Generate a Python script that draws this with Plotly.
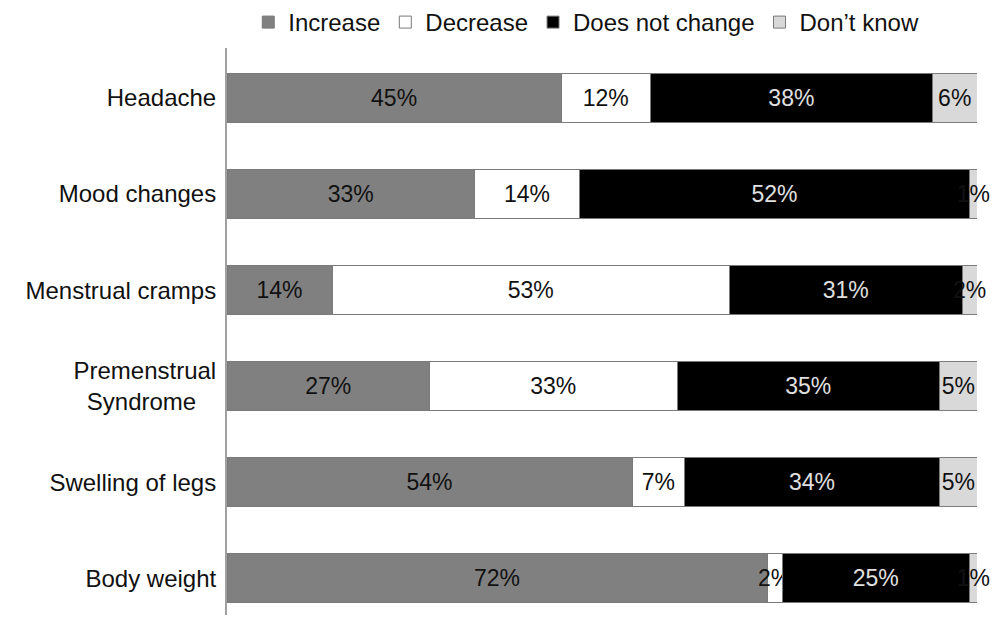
import plotly.graph_objects as go

categories = ["Headache", "Mood changes", "Menstrual cramps",
              "Premenstrual<br>Syndrome\u00a0\u00a0\u00a0",
              "Swelling of legs", "Body weight"]
increase = [45, 33, 14, 27, 54, 72]
decrease = [12, 14, 53, 33, 7, 2]
no_change = [38, 52, 31, 35, 34, 25]
dont_know = [6, 1, 2, 5, 5, 1]

series = [
    ("Increase", increase, "#808080", "#111111"),
    ("Decrease", decrease, "#ffffff", "#111111"),
    ("Does not change", no_change, "#000000", "#e0e0e0"),
    ("Don\u2019t know", dont_know, "#d9d9d9", "#111111"),
]

fig = go.Figure()
for name, vals, color, tcolor in series:
    fig.add_trace(go.Bar(
        y=categories, x=vals, name=name, orientation="h",
        marker=dict(color=color, line=dict(color="#7a7a7a", width=1)),
        text=[f"{v}%" for v in vals], textposition="inside", textangle=0,
        insidetextanchor="middle", constraintext="none",
        textfont=dict(family="Liberation Sans, Arial", size=23, color=tcolor),
        cliponaxis=False,
    ))

fig.update_layout(
    barmode="stack", barnorm="percent", bargap=0.49,
    width=993, height=618,
    margin=dict(l=227, r=16, t=48, b=3),
    paper_bgcolor="white", plot_bgcolor="white",
    font=dict(family="Liberation Sans, Arial", size=24, color="#111111"),
    legend=dict(orientation="h", x=0.479, xanchor="center", xref="paper",
                y=1.0, yref="container", yanchor="top",
                font=dict(size=24), itemwidth=30, traceorder="normal",
                bgcolor="rgba(0,0,0,0)"),
    showlegend=True,
)
fig.update_xaxes(range=[0, 100], showgrid=False, zeroline=False,
                 showticklabels=False, ticks="", showline=False)
fig.update_yaxes(categoryorder="array", categoryarray=categories,
                 range=[5.38, -0.52], showgrid=False, zeroline=False,
                 ticks="", showline=True, linecolor="#a0a0a0", linewidth=2,
                 ticklabelstandoff=4, tickfont=dict(size=24, color="#111111"))

fig.write_html("out.html")
